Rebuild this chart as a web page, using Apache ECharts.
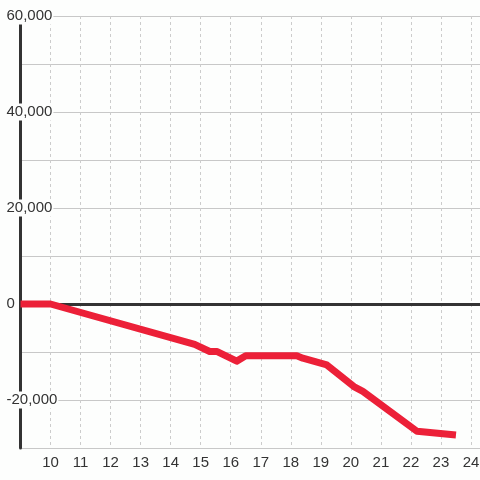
<!DOCTYPE html>
<html><head><meta charset="utf-8">
<script src="https://cdn.jsdelivr.net/npm/echarts@6/dist/echarts.min.js"></script>
<style>html,body{margin:0;padding:0;background:#fdfefd;}#c{width:480px;height:480px;}</style>
</head><body><div id="c"></div>
<script>
const xValues = [9, 10, 14.8, 15.3, 15.55, 16.2, 16.5, 18.2, 18.4, 19.2, 20.1, 20.4, 22.2, 23.5];
const yValues = [0, 0, -8400, -9900, -9900, -11900, -10800, -10800, -11300, -12700, -17200, -18200, -26500, -27300];
const yLabelValues = [-20000, 0, 20000, 40000, 60000];

const chart = echarts.init(document.getElementById('c'), null, {renderer: 'canvas'});
const data = xValues.map((x, i) => [x, yValues[i]]);
chart.setOption({
  backgroundColor: '#fdfefd',
  animation: false,
  grid: {left: 20.5, right: 0, top: 16, bottom: 32, containLabel: false, outerBoundsMode: 'none'},
  xAxis: {
    type: 'value', min: 9, max: 24.3, interval: 1,
    axisLine: {show: false}, axisTick: {show: false},
    axisLabel: {showMinLabel: false, showMaxLabel: false, color: '#333', fontSize: 15,
      fontFamily: 'Liberation Sans, Arial, sans-serif', margin: 7},
    splitLine: {show: true, lineStyle: {color: '#cccccc', width: 1, type: [3, 3]}}
  },
  yAxis: {
    type: 'value', min: -30000, max: 60000, interval: 10000,
    axisLine: {show: true, lineStyle: {color: '#333', width: 3}},
    axisTick: {show: false},
    axisLabel: {
      color: '#333', fontSize: 15, fontFamily: 'Liberation Sans, Arial, sans-serif',
      margin: 14, align: 'left', backgroundColor: '#fdfefd', padding: [2, 1, 0, 0],
      formatter: v => yLabelValues.includes(v) ? v.toLocaleString('en-US') : ''
    },
    splitLine: {show: true, lineStyle: {color: '#c8c8c8', width: 1}}
  },
  series: [{
    type: 'line', data: data, symbol: 'none', z: 5,
    lineStyle: {color: '#ec2038', width: 7, cap: 'butt', join: 'round'},
    markLine: {
      silent: true, symbol: 'none', z: 1, label: {show: false},
      lineStyle: {color: '#333', width: 3, type: 'solid'},
      data: [{yAxis: 0}]
    }
  }]
});
</script></body></html>
